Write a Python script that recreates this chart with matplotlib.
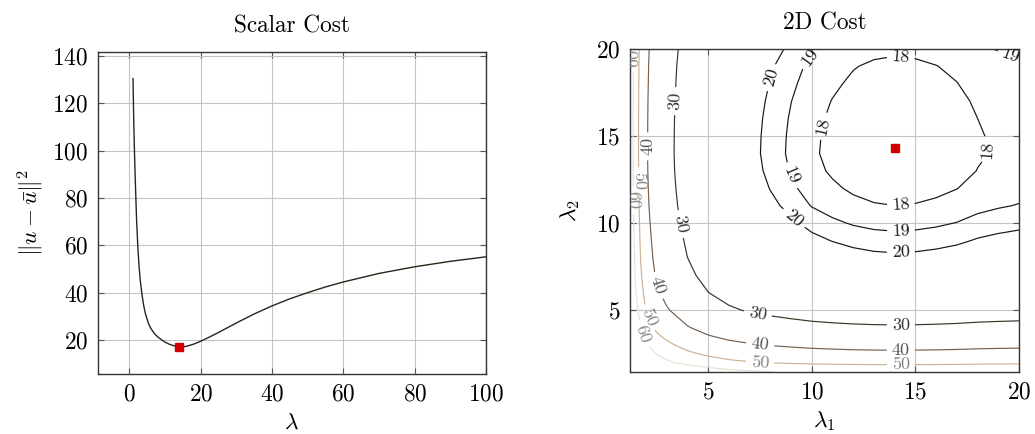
import matplotlib
matplotlib.use('Agg')
import matplotlib.pyplot as plt
import numpy as np

plt.rcParams['font.family'] = 'serif'
plt.rcParams['font.serif'] = ['cmr10', 'DejaVu Serif']
plt.rcParams['mathtext.fontset'] = 'cm'
plt.rcParams['axes.unicode_minus'] = False
plt.rcParams['axes.formatter.use_mathtext'] = True

# ---------- scalar cost over lambda ----------
lam = [1.0, 1.2, 1.4, 1.6, 1.8, 2.0, 2.35, 2.7, 3.0, 3.47, 4.0, 4.5, 5.3, 6.0, 7.0,
       8.0, 9.1, 10.0, 11.0, 12.0, 13.0, 14.0, 15.0, 16.0, 18.0, 20.0, 22.5, 25.0,
       30.0, 35.0, 40.0, 45.0, 50.0, 55.0, 60.0, 70.0, 80.0, 90.0, 100.0]
cost = [130.4, 112.9, 100.2, 89.5, 79.9, 70.9, 59.5, 51.1, 45.8, 39.8, 34.6, 31.1,
        27.2, 25.0, 22.8, 21.3, 20.1, 19.2, 18.45, 17.9, 17.45, 17.2, 17.22, 17.45,
        18.35, 19.6, 21.4, 23.3, 27.3, 31.1, 34.5, 37.5, 40.1, 42.5, 44.6, 48.2,
        51.0, 53.3, 55.2]
lam_best = [14.0]
cost_best = [17.2]

# ---------- 2D cost over (lambda1, lambda2) ----------
lam1_grid = [1.25, 1.5, 1.75, 2.0, 2.5, 3.0, 4.0, 5.0, 6.0, 7.0, 8.0, 9.0, 10.0,
             11.0, 12.0, 13.0, 14.0, 15.0, 16.0, 17.0, 18.0, 19.0, 20.0]
lam2_grid = [1.47, 1.75, 2.0, 2.5, 3.0, 3.5, 4.0, 5.0, 6.0, 7.0, 8.0, 9.0, 10.0,
             11.0, 12.0, 13.0, 14.0, 15.0, 16.0, 17.0, 18.0, 19.0, 20.0]
# rows follow lam2_grid, columns follow lam1_grid
cost_2d = [
    [106.7, 95.2, 87.2, 81.5, 75.5, 72.2, 67.5, 64.4, 62.3, 61.0, 60.05, 59.3, 58.65, 58.25, 57.95, 57.77, 57.7, 57.75, 57.88, 58.08, 58.4, 58.6, 58.75],
    [101.7, 90.2, 82.2, 76.5, 70.5, 67.2, 62.5, 59.4, 57.3, 56.0, 55.05, 54.3, 53.65, 53.25, 52.95, 52.77, 52.7, 52.75, 52.88, 53.08, 53.4, 53.6, 53.75],
    [96.2, 84.7, 76.7, 71.0, 65.0, 61.7, 57.0, 53.9, 51.8, 50.5, 49.55, 48.8, 48.15, 47.75, 47.45, 47.27, 47.2, 47.25, 47.38, 47.58, 47.9, 48.1, 48.25],
    [90.8, 79.3, 71.3, 65.6, 59.6, 56.3, 51.6, 48.5, 46.4, 45.1, 44.15, 43.4, 42.75, 42.35, 42.05, 41.87, 41.8, 41.85, 41.98, 42.18, 42.5, 42.7, 42.85],
    [86.4, 74.9, 66.9, 61.2, 55.2, 51.9, 47.2, 44.1, 42.0, 40.7, 39.75, 39.0, 38.35, 37.95, 37.65, 37.47, 37.4, 37.45, 37.58, 37.78, 38.1, 38.3, 38.45],
    [82.8, 71.3, 63.3, 57.6, 51.6, 48.3, 43.6, 40.5, 38.4, 37.1, 36.15, 35.4, 34.75, 34.35, 34.05, 33.87, 33.8, 33.85, 33.98, 34.18, 34.5, 34.7, 34.85],
    [79.7, 68.2, 60.2, 54.5, 48.5, 45.2, 40.5, 37.4, 35.3, 34.0, 33.05, 32.3, 31.65, 31.25, 30.95, 30.77, 30.7, 30.75, 30.88, 31.08, 31.4, 31.6, 31.75],
    [75.2, 63.7, 55.7, 50.0, 44.0, 40.7, 36.0, 32.9, 30.8, 29.5, 28.55, 27.8, 27.15, 26.75, 26.45, 26.27, 26.2, 26.25, 26.38, 26.58, 26.9, 27.1, 27.25],
    [72.4, 60.9, 52.9, 47.2, 41.2, 37.9, 33.2, 30.1, 28.0, 26.7, 25.75, 25.0, 24.35, 23.95, 23.65, 23.47, 23.4, 23.45, 23.58, 23.78, 24.1, 24.3, 24.45],
    [70.5, 59.0, 51.0, 45.3, 39.3, 36.0, 31.3, 28.2, 26.1, 24.8, 23.85, 23.1, 22.45, 22.05, 21.75, 21.57, 21.5, 21.55, 21.68, 21.88, 22.2, 22.4, 22.55],
    [69.25, 57.75, 49.75, 44.05, 38.05, 34.75, 30.05, 26.95, 24.85, 23.55, 22.6, 21.85, 21.2, 20.8, 20.5, 20.32, 20.25, 20.3, 20.43, 20.63, 20.95, 21.15, 21.3],
    [68.4, 56.9, 48.9, 43.2, 37.2, 33.9, 29.2, 26.1, 24.0, 22.7, 21.75, 21.0, 20.35, 19.95, 19.65, 19.47, 19.4, 19.45, 19.58, 19.78, 20.1, 20.3, 20.45],
    [67.65, 56.15, 48.15, 42.45, 36.45, 33.15, 28.45, 25.35, 23.25, 21.95, 21.0, 20.25, 19.6, 19.2, 18.9, 18.72, 18.65, 18.7, 18.83, 19.03, 19.35, 19.55, 19.7],
    [67.0, 55.5, 47.5, 41.8, 35.8, 32.5, 27.8, 24.7, 22.6, 21.3, 20.35, 19.6, 18.95, 18.55, 18.25, 18.07, 18.0, 18.05, 18.18, 18.38, 18.7, 18.9, 19.05],
    [66.6, 55.1, 47.1, 41.4, 35.4, 32.1, 27.4, 24.3, 22.2, 20.9, 19.95, 19.2, 18.55, 18.15, 17.85, 17.67, 17.6, 17.65, 17.78, 17.98, 18.3, 18.5, 18.65],
    [66.32, 54.82, 46.82, 41.12, 35.12, 31.82, 27.12, 24.02, 21.92, 20.62, 19.67, 18.92, 18.27, 17.87, 17.57, 17.39, 17.32, 17.37, 17.5, 17.7, 18.02, 18.22, 18.37],
    [66.2, 54.7, 46.7, 41.0, 35.0, 31.7, 27.0, 23.9, 21.8, 20.5, 19.55, 18.8, 18.15, 17.75, 17.45, 17.27, 17.2, 17.25, 17.38, 17.58, 17.9, 18.1, 18.25],
    [66.23, 54.73, 46.73, 41.03, 35.03, 31.73, 27.03, 23.93, 21.83, 20.53, 19.58, 18.83, 18.18, 17.78, 17.48, 17.3, 17.23, 17.28, 17.41, 17.61, 17.93, 18.13, 18.28],
    [66.3, 54.8, 46.8, 41.1, 35.1, 31.8, 27.1, 24.0, 21.9, 20.6, 19.65, 18.9, 18.25, 17.85, 17.55, 17.37, 17.3, 17.35, 17.48, 17.68, 18.0, 18.2, 18.35],
    [66.42, 54.92, 46.92, 41.22, 35.22, 31.92, 27.22, 24.12, 22.02, 20.72, 19.77, 19.02, 18.37, 17.97, 17.67, 17.49, 17.42, 17.47, 17.6, 17.8, 18.12, 18.32, 18.47],
    [66.6, 55.1, 47.1, 41.4, 35.4, 32.1, 27.4, 24.3, 22.2, 20.9, 19.95, 19.2, 18.55, 18.15, 17.85, 17.67, 17.6, 17.65, 17.78, 17.98, 18.3, 18.5, 18.65],
    [66.8, 55.3, 47.3, 41.6, 35.6, 32.3, 27.6, 24.5, 22.4, 21.1, 20.15, 19.4, 18.75, 18.35, 18.05, 17.87, 17.8, 17.85, 17.98, 18.18, 18.5, 18.7, 18.85],
    [67.15, 55.65, 47.65, 41.95, 35.95, 32.65, 27.95, 24.85, 22.75, 21.45, 20.5, 19.75, 19.1, 18.7, 18.4, 18.22, 18.15, 18.2, 18.33, 18.53, 18.85, 19.05, 19.2],
]
levels = [18, 19, 20, 30, 40, 50, 60]
level_colors = ['#151515', '#151515', '#151515', '#3e3226', '#76604f', '#cdb194', '#ece0d4']
label_colors = ['#1a1a1a', '#1a1a1a', '#1a1a1a', '#333333', '#555555', '#858585', '#8a8a8a']
lam1_best = [14.0]
lam2_best = [14.3]

FS = 16.8
SPINE = '#333333'
GRID = '#c4c4c4'
RED = '#d40000'


def style_axes(ax):
    ax.grid(True, color=GRID, linewidth=0.8)
    ax.set_axisbelow(True)
    ax.tick_params(direction='in', length=4, width=0.8, color='#555555',
                   top=True, right=True, labelsize=FS, pad=7)
    for sp in ax.spines.values():
        sp.set_color(SPINE)
        sp.set_linewidth(1.0)


fig = plt.figure(figsize=(10.35, 4.34), dpi=100)

# left: scalar cost curve
ax1 = fig.add_axes([0.0944, 0.1389, 0.3752, 0.7419])
ax1.plot(lam, cost, color='#2b2419', linewidth=1.0)
ax1.plot(lam_best, cost_best, 's', color=RED, markersize=5.5, zorder=5)
span = max(cost) - min(cost)
ax1.set_xlim(lam[0] - 0.1 * (lam[-1] - lam[0]), lam[-1])
ax1.set_ylim(min(cost) - 0.1 * span, max(cost) + 0.1 * span)
ax1.set_xticks([0, 20, 40, 60, 80, 100])
ax1.set_yticks([20, 40, 60, 80, 100, 120, 140])
style_axes(ax1)
ax1.set_title('Scalar Cost', fontsize=FS, pad=14)
ax1.set_xlabel(r'$\lambda$', fontsize=FS, labelpad=4)
ax1.set_ylabel(r'$\|u-\bar{u}\|^2$', fontsize=FS, labelpad=5)

# right: 2D cost contours
ax2 = fig.add_axes([0.6090, 0.1435, 0.3756, 0.7442])
cs = ax2.contour(lam1_grid, lam2_grid, np.array(cost_2d), levels=levels,
                 colors=level_colors, linewidths=0.85)
label_spots = [
    (14.3, 19.6), (10.4, 15.6), (18.5, 14.2), (14.3, 11.0),
    (9.8, 19.6), (8.8, 12.6), (14.3, 9.6), (19.6, 19.6),
    (7.9, 18.4), (9.3, 10.5), (14.3, 8.2),
    (3.3, 17.0), (3.5, 9.9), (7.4, 4.8), (14.3, 4.1),
    (1.95, 14.4), (2.55, 6.4), (7.5, 2.85), (14.3, 2.7),
    (1.6, 12.4), (2.2, 4.6), (7.5, 1.96), (14.3, 1.86),
    (1.4, 19.5), (1.4, 11.3), (1.8, 3.6),
]
ax2.clabel(cs, fmt='%d', fontsize=13, inline=True, manual=label_spots,
           colors=label_colors)
ax2.plot(lam1_best, lam2_best, 's', color=RED, markersize=5.5, zorder=5)
ax2.set_xlim(lam1_grid[0], lam1_grid[-1])
ax2.set_ylim(lam2_grid[0], lam2_grid[-1])
ax2.set_xticks([5, 10, 15, 20])
ax2.set_yticks([5, 10, 15, 20])
style_axes(ax2)
ax2.set_title('2D Cost', fontsize=FS, pad=14)
ax2.set_xlabel(r'$\lambda_1$', fontsize=FS, labelpad=4)
ax2.set_ylabel(r'$\lambda_2$', fontsize=FS, labelpad=10)

fig.savefig('out.png', dpi=100)
